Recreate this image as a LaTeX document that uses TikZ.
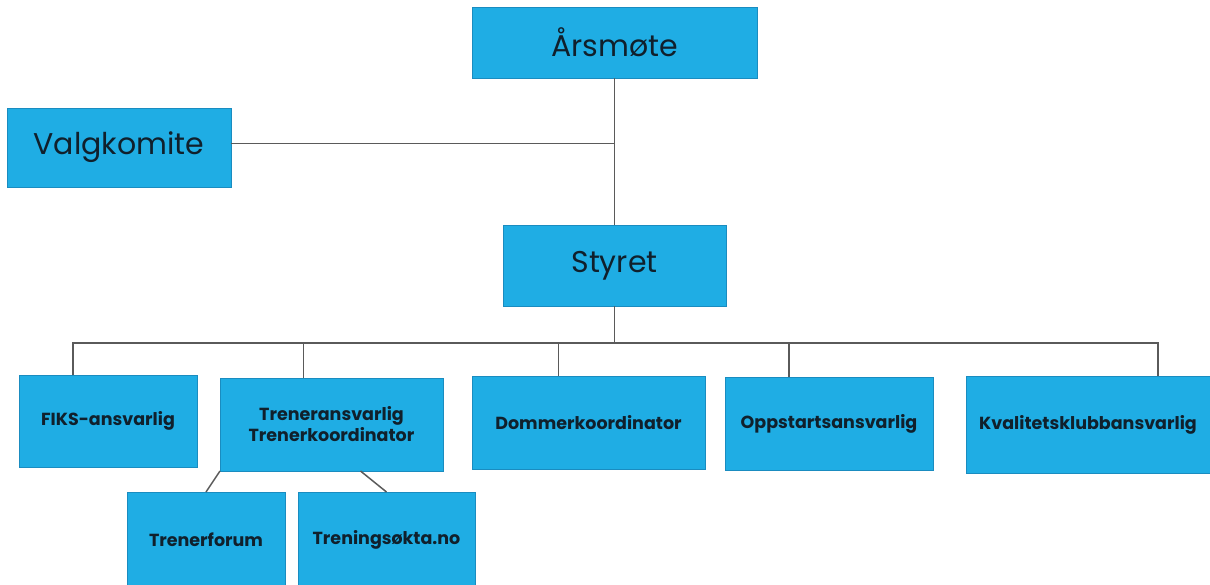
\documentclass[tikz,border=0pt]{standalone}
\usepackage{fontspec}
\setmainfont{Poppins}
\usetikzlibrary{
  calc,
  positioning
}
\definecolor{boxblue}{HTML}{1FADE4}
\definecolor{boxedge}{HTML}{1A8CC0}
\definecolor{linegray}{HTML}{5A5A5A}
\definecolor{textdark}{HTML}{10202C}
\tikzset{
  % For the large boxes at the top.
  big box/.style={
    draw=boxedge,
    line width=1pt,
    fill=boxblue,
    text=textdark,
    inner sep=0pt,
    outer sep=0pt,
    font=\fontsize{30}{34}\selectfont},
%
  % For the boxes of the lower row.
  small box/.style={
    draw=boxedge,
    line width=1pt,
    fill=boxblue,
    text=textdark,
    inner sep=0pt,
    outer sep=0pt,
    align=center,
    font=\bfseries\fontsize{17.5}{21}\selectfont},
%
  % For the connecting lines.
  link/.style={
    draw=linegray,
    line width=1.5pt},
}
\begin{document}
\begin{tikzpicture}[x=1pt,y=-1pt]
  \useasboundingbox (0,0) rectangle (1210,584);

  \node[big box, minimum width=285, minimum height=71] (aarsmote) at (614.5,42.5) {Årsmøte};
  \node[big box, minimum width=224, minimum height=79] (valg) at (119,147.5) {Valgkomite};
  \node[big box, minimum width=223, minimum height=81] (styret) at (614.5,265.5) {Styret};

  \node[small box, minimum width=178, minimum height=92] (fiks) at (108,421) {FIKS-ansvarlig};
  \node[small box, minimum width=223, minimum height=93] (trener) at (331.5,424.5)
    {Treneransvarlig\\Trenerkoordinator};
  \node[small box, minimum width=233, minimum height=93] (dommer) at (588.5,422.5) {Dommerkoordinator};
  \node[small box, minimum width=208, minimum height=93] (oppstart) at (829,423.5) {Oppstartsansvarlig};
  \node[small box, minimum width=244, minimum height=97] (kvalitet) at (1088,424.5) {Kvalitetsklubbansvarlig};

  % The two lowest boxes run past the bottom edge.
  \node[small box, minimum width=158, minimum height=96] (forum) at (206,540) {Trenerforum};
  \node[small box, minimum width=177, minimum height=96] (sekta) at (386.5,540) {Treningsøkta.no};

  \coordinate (bus) at (614.5,343);

  \draw[link] (aarsmote) -- (styret);
  \draw[link] ([yshift=4pt]valg.east) -- ([yshift=4pt]valg.east -| aarsmote);
  \draw[link] (styret) -- (bus);

  % Drops from the bus line are not centred on their boxes.
  \draw[link] (bus) -| ([xshift=-35pt]fiks.north);
  \draw[link] (bus) -| ([xshift=-28pt]trener.north);
  \draw[link] (bus) -| ([xshift=-30pt]dommer.north);
  \draw[link] (bus) -| ([xshift=-40pt]oppstart.north);
  \draw[link] (bus) -| ([xshift=70pt]kvalitet.north);

  \draw[link] (trener.south west) -- (forum.north);
  \draw[link] ([xshift=29pt]trener.south) -- (sekta.north);
\end{tikzpicture}
\end{document}
